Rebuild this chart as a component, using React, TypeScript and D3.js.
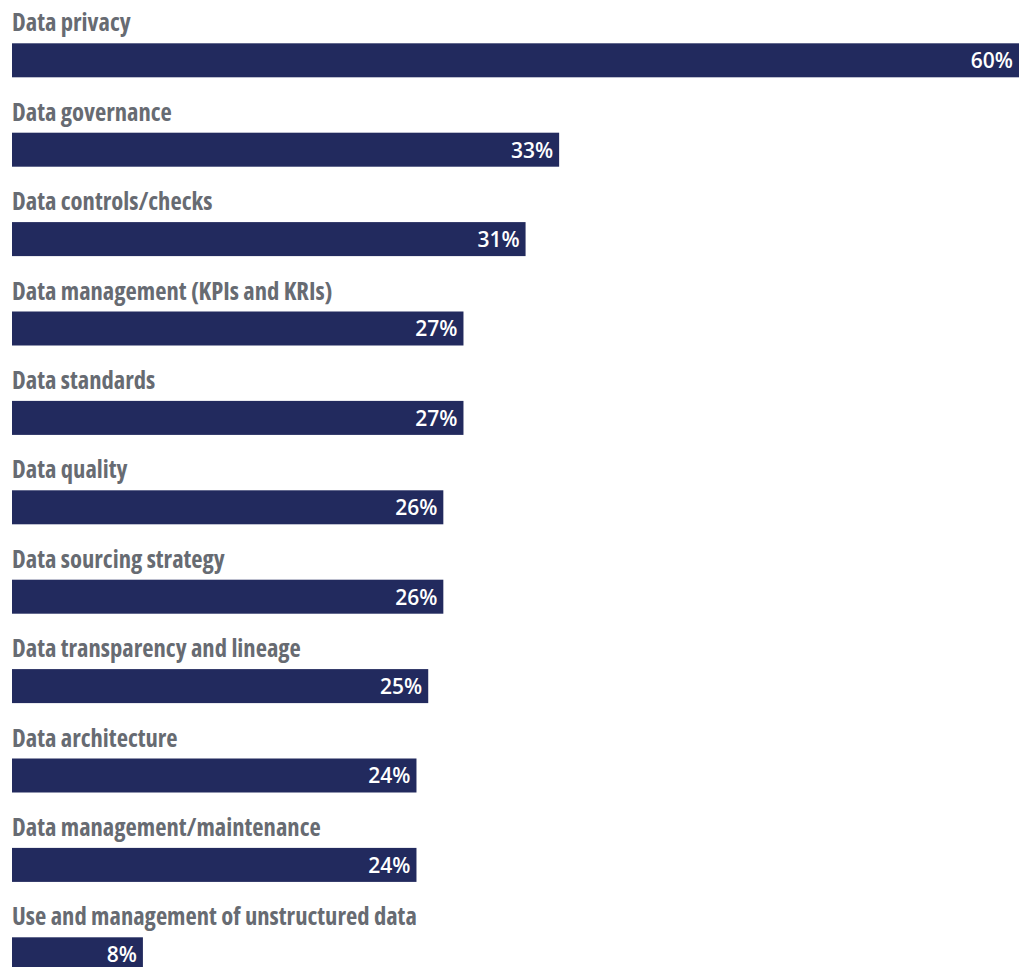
import React, { useEffect, useRef } from "react";
import * as d3 from "d3";

const categories = [
  "Data privacy",
  "Data governance",
  "Data controls/checks",
  "Data management (KPIs and KRIs)",
  "Data standards",
  "Data quality",
  "Data sourcing strategy",
  "Data transparency and lineage",
  "Data architecture",
  "Data management/maintenance",
  "Use and management of unstructured data",
];

const values = [60, 32.6, 30.6, 26.9, 26.9, 25.7, 25.7, 24.8, 24.1, 24.1, 7.8];

const WIDTH = 1020;
const HEIGHT = 967;

export default function App() {
  const ref = useRef<SVGSVGElement | null>(null);

  useEffect(() => {
    const svg = d3.select(ref.current);
    svg.selectAll("*").remove();

    const x = d3.scaleLinear().domain([0, 60]).range([12, 1019]);
    const y = d3
      .scaleBand<string>()
      .domain(categories)
      .range([43.3 - 55.4, 43.3 - 55.4 + 89.4 * categories.length])
      .paddingInner(0)
      .paddingOuter(0);

    const g = svg
      .selectAll("g.row")
      .data(categories)
      .join("g")
      .attr("class", "row")
      .attr("transform", (d) => `translate(0,${y(d)!})`);

    g.append("rect")
      .attr("x", x(0))
      .attr("y", 55.4)
      .attr("width", (_d, i) => x(values[i]) - x(0))
      .attr("height", 34)
      .attr("fill", "#222a5e");

    g.append("text")
      .attr("x", 12)
      .attr("y", 55.4 - 11.8)
      .attr("fill", "#676b72")
      .style("font-family", "'Open Sans', sans-serif")
      .style("font-weight", "700")
      .style("font-stretch", "condensed")
      .style("font-size", "24.6px")
      .text((d) => d);

    g.append("text")
      .attr("x", (_d, i) => x(values[i]) - 6)
      .attr("y", 55.4 + 25)
      .attr("text-anchor", "end")
      .attr("fill", "#ffffff")
      .style("font-family", "'Open Sans', sans-serif")
      .style("font-weight", "600")
      .style("font-size", "21px")
      .text((_d, i) => `${Math.round(values[i])}%`);
  }, []);

  return (
    <div style={{ position: "absolute", left: 0, top: 0 }}>
      <svg ref={ref} width={WIDTH} height={HEIGHT} style={{ display: "block" }} />
    </div>
  );
}
